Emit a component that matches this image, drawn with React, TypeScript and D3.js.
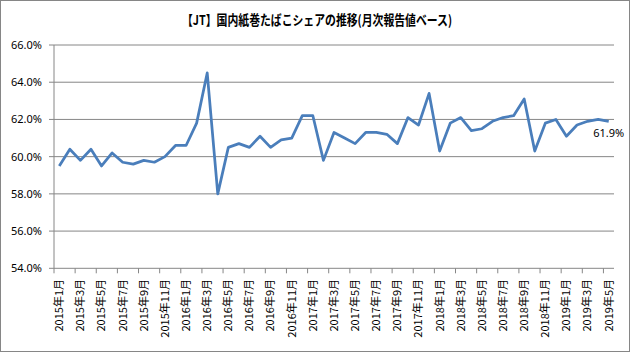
import React from "react";
import * as d3 from "d3";

const years = [2015, 2016, 2017, 2018, 2019];
const monthsInLastYear = 5;
const share = [
  59.5, 60.4, 59.8, 60.4, 59.5, 60.2, 59.7, 59.6, 59.8, 59.7,
  60.0, 60.6, 60.6, 61.8, 64.5, 58.0, 60.5, 60.7, 60.5, 61.1,
  60.5, 60.9, 61.0, 62.2, 62.2, 59.8, 61.3, 61.0, 60.7, 61.3,
  61.3, 61.2, 60.7, 62.1, 61.7, 63.4, 60.3, 61.8, 62.1, 61.4,
  61.5, 61.9, 62.1, 62.2, 63.1, 60.3, 61.8, 62.0, 61.1, 61.7,
  61.9, 62.0, 61.9,
];
const yTicks = [54, 56, 58, 60, 62, 64, 66];
const title = "【JT】国内紙巻たばこシェアの推移(月次報告値ベース)";

const categories: string[] = [];
years.forEach((yr, yi) => {
  const n = yi === years.length - 1 ? monthsInLastYear : 12;
  for (let m = 1; m <= n; m++) categories.push(`${yr}年${m}月`);
});

const W = 631;
const H = 354;
const left = 54;
const right = 614;
const top = 45;
const bottom = 268.3;

export default function App() {
  const x = d3.scaleBand<string>().domain(categories).range([left, right]).padding(0);
  const y = d3.scaleLinear().domain([54, 66]).range([bottom, top]);
  const cx = (c: string) => (x(c) as number) + x.bandwidth() / 2;
  const line = d3
    .line<number>()
    .x((_, i) => cx(categories[i]))
    .y((d) => y(d));
  const grid = "#868686";
  const lastI = share.length - 1;
  const fmt = (v: number) => v.toFixed(1) + "%";

  return (
    <svg
      width={W}
      height={H}
      style={{ position: "absolute", left: 0, top: 0, background: "#fff" }}
      fontFamily="'Noto Sans', 'Noto Sans CJK JP', sans-serif"
    >
      <rect x={0.5} y={0.5} width={629} height={351} fill="#fff" stroke="#868686" />
      <text
        x={317}
        y={25}
        textAnchor="middle"
        fontSize={13.5}
        fontWeight="bold"
        fontFamily="'Noto Sans CJK JP', sans-serif"
        textLength={270}
        lengthAdjust="spacingAndGlyphs"
        fill="#000"
      >
        {title}
      </text>
      {yTicks.map((t) => (
        <g key={t}>
          <line x1={left} x2={right} y1={y(t)} y2={y(t)} stroke={grid} strokeWidth={1} />
          <line x1={left - 5} x2={left} y1={y(t)} y2={y(t)} stroke={grid} strokeWidth={1} />
          <text x={42} y={y(t)} dy="0.35em" textAnchor="end" fontSize={11} fill="#000">
            {fmt(t)}
          </text>
        </g>
      ))}
      <line x1={left} x2={left} y1={top} y2={bottom} stroke={grid} strokeWidth={1} />
      {categories.map((c, i) =>
        i % 2 === 0 ? (
          <g key={c}>
            <line
              x1={x(c) as number}
              x2={x(c) as number}
              y1={bottom}
              y2={bottom + 5}
              stroke={grid}
              strokeWidth={1}
            />
            <text
              transform={`translate(${cx(c)},${279}) rotate(-90)`}
              textAnchor="end"
              dy="0.35em"
              fontSize={11}
              fontFamily="'Noto Sans CJK JP', sans-serif"
              fill="#000"
            >
              {c}
            </text>
          </g>
        ) : null
      )}
      <path d={line(share) || ""} fill="none" stroke="#4a7ebb" strokeWidth={2.75} strokeLinejoin="round" />
      <text
        x={cx(categories[lastI])}
        y={y(share[lastI]) + 12}
        dy="0.35em"
        textAnchor="middle"
        fontSize={11}
        fill="#000"
      >
        {fmt(share[lastI])}
      </text>
    </svg>
  );
}
